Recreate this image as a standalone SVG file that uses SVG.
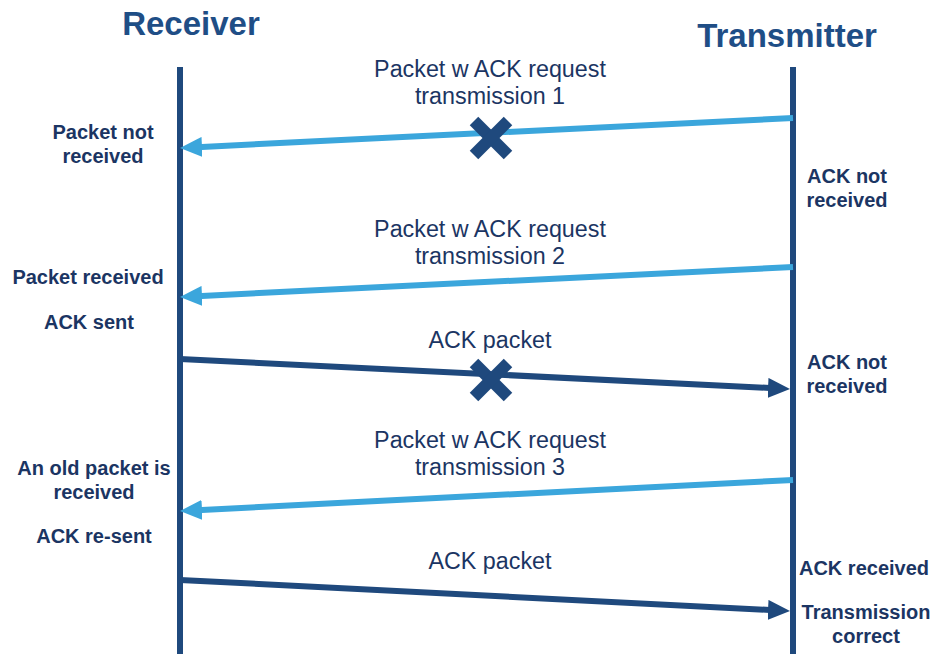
<svg xmlns="http://www.w3.org/2000/svg" width="934" height="654" viewBox="0 0 934 654">
<style>
.title{font-family:"Liberation Sans",Arial,sans-serif;font-weight:bold;font-size:33px;fill:#1F4E86;text-anchor:middle}
.msg{font-family:"Liberation Sans",Arial,sans-serif;font-size:23.3px;fill:#1B3563;text-anchor:middle}
.note{font-family:"Liberation Sans",Arial,sans-serif;font-weight:bold;font-size:20px;fill:#1B3563;text-anchor:middle}
.life{stroke:#1F497D;stroke-width:6;fill:none}
.req{stroke:#3BA6DC;stroke-width:6;fill:none;marker-end:url(#headL)}
.ack{stroke:#1F497D;stroke-width:6;fill:none;marker-end:url(#headD)}
.x{stroke:#1F497D;stroke-width:12;fill:none}
</style>
<defs>
<marker id="headL" markerUnits="userSpaceOnUse" markerWidth="22" markerHeight="20" refX="10" refY="10" orient="auto" viewBox="0 0 22 20"><path d="M0,0 L22,10 L0,20 z" fill="#3BA6DC"/></marker>
<marker id="headD" markerUnits="userSpaceOnUse" markerWidth="22" markerHeight="20" refX="10" refY="10" orient="auto" viewBox="0 0 22 20"><path d="M0,0 L22,10 L0,20 z" fill="#1F497D"/></marker>
</defs>
<rect width="934" height="654" fill="#ffffff"/>
<g id="receiver">
<text class="title" x="191" y="35">Receiver</text>
<line class="life" x1="180" y1="67" x2="180" y2="654"/>
</g>
<g id="transmitter">
<text class="title" x="787" y="47">Transmitter</text>
<line class="life" x1="793" y1="67" x2="793" y2="654"/>
</g>
<g id="connectors">
<line class="req" x1="793" y1="118" x2="192" y2="147.4"/>
<line class="req" x1="793" y1="267" x2="192" y2="296.4"/>
<line class="ack" x1="180" y1="359" x2="778" y2="388.4"/>
<line class="req" x1="793" y1="480" x2="192" y2="510.4"/>
<line class="ack" x1="180" y1="580" x2="778" y2="610.4"/>
</g>
<g id="loss1">
<line class="x" x1="474" y1="121" x2="508" y2="155"/>
<line class="x" x1="508" y1="121" x2="474" y2="155"/>
</g>
<g id="loss2">
<line class="x" x1="474" y1="363" x2="508" y2="397"/>
<line class="x" x1="508" y1="363" x2="474" y2="397"/>
</g>
<g id="msg1">
<text class="msg" x="490" y="77">Packet w ACK request</text>
<text class="msg" x="490" y="104">transmission 1</text>
</g>
<g id="msg2">
<text class="msg" x="490" y="237">Packet w ACK request</text>
<text class="msg" x="490" y="264">transmission 2</text>
</g>
<g id="msg3">
<text class="msg" x="490" y="348">ACK packet</text>
</g>
<g id="msg4">
<text class="msg" x="490" y="448">Packet w ACK request</text>
<text class="msg" x="490" y="475">transmission 3</text>
</g>
<g id="msg5">
<text class="msg" x="490" y="569">ACK packet</text>
</g>
<g id="note-r1">
<text class="note" x="103" y="139">Packet not</text>
<text class="note" x="103" y="163">received</text>
</g>
<g id="note-r2">
<text class="note" x="88" y="284">Packet received</text>
<text class="note" x="89" y="329">ACK sent</text>
</g>
<g id="note-r3">
<text class="note" x="94" y="475">An old packet is</text>
<text class="note" x="94" y="499">received</text>
<text class="note" x="94" y="543">ACK re-sent</text>
</g>
<g id="note-t1">
<text class="note" x="847" y="183">ACK not</text>
<text class="note" x="847" y="207">received</text>
</g>
<g id="note-t2">
<text class="note" x="847" y="369">ACK not</text>
<text class="note" x="847" y="393">received</text>
</g>
<g id="note-t3">
<text class="note" x="864" y="575">ACK received</text>
<text class="note" x="866" y="619">Transmission</text>
<text class="note" x="866" y="643">correct</text>
</g>
</svg>
